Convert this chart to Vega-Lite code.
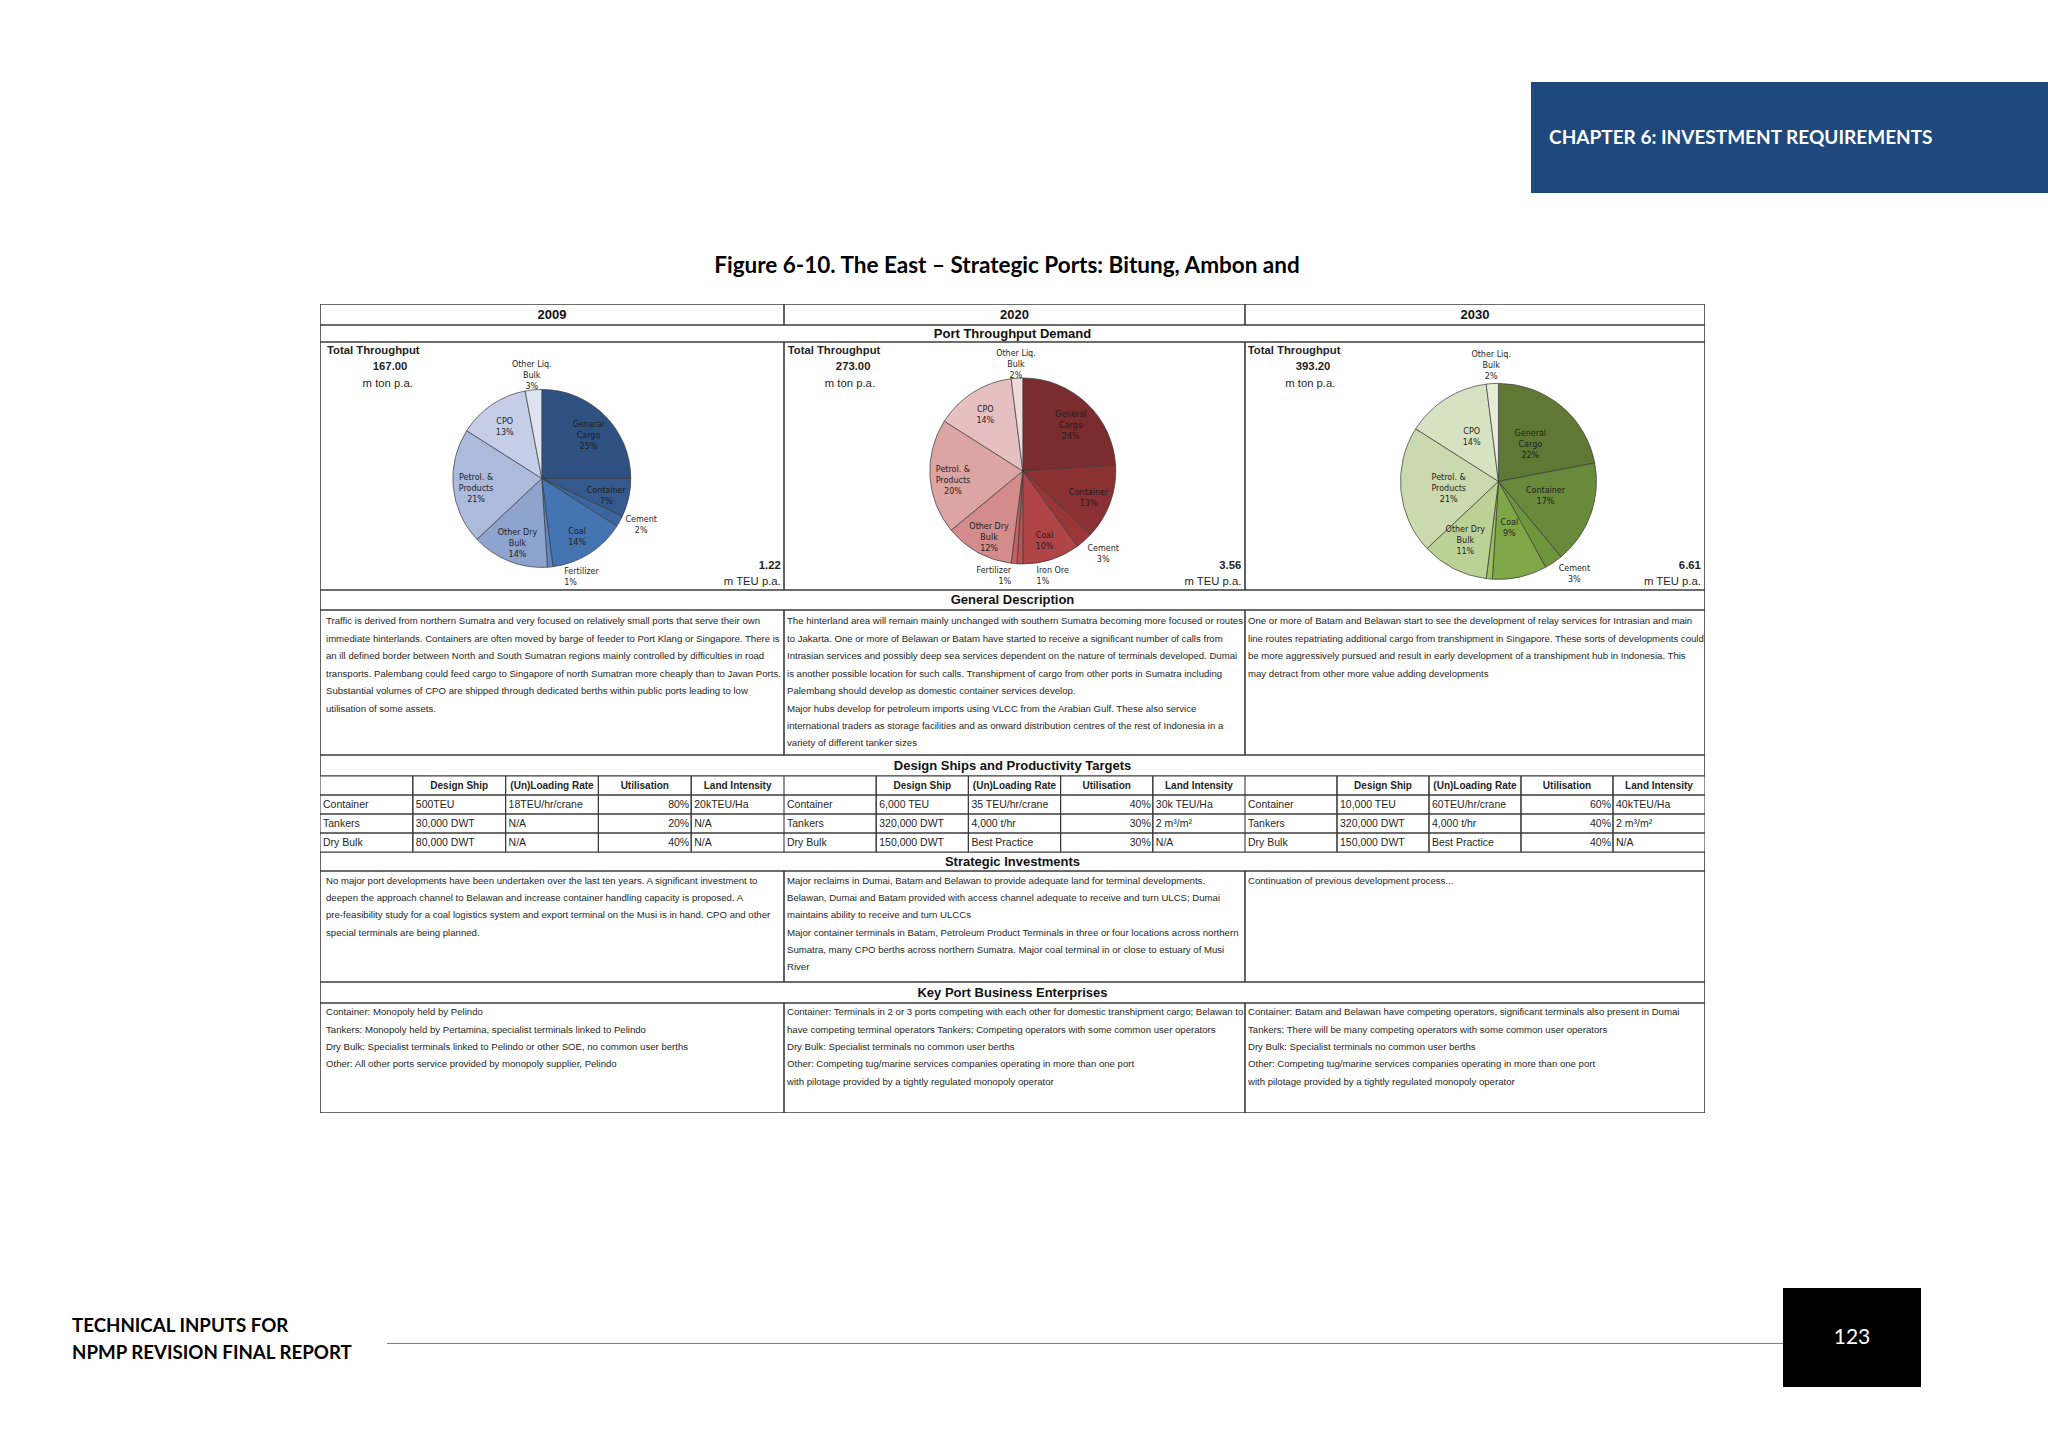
{
"$schema":"https://vega.github.io/schema/vega-lite/v6.json",
"background":"white",
"padding":{"left":0,"top":82,"right":0,"bottom":61},
"config":{"view":{"stroke":null},"text":{"font":"Liberation Sans","fontSize":9.6,"color":"#1f1f1f"}},
"datasets":{
"pies":[
{"year":"2009","idx":1,"cat":"General Cargo","pct":25,"label":"General\nCargo\n25%"},
{"year":"2009","idx":2,"cat":"Container","pct":7,"label":"Container\n7%"},
{"year":"2009","idx":3,"cat":"Cement","pct":2,"label":"Cement\n2%"},
{"year":"2009","idx":4,"cat":"Coal","pct":14,"label":"Coal\n14%"},
{"year":"2009","idx":5,"cat":"Fertilizer","pct":1,"label":"Fertilizer\n1%"},
{"year":"2009","idx":6,"cat":"Other Dry Bulk","pct":14,"label":"Other Dry\nBulk\n14%"},
{"year":"2009","idx":7,"cat":"Petrol. & Products","pct":21,"label":"Petrol. &\nProducts\n21%"},
{"year":"2009","idx":8,"cat":"CPO","pct":13,"label":"CPO\n13%"},
{"year":"2009","idx":9,"cat":"Other Liq. Bulk","pct":3,"label":"Other Liq.\nBulk\n3%"},
{"year":"2020","idx":1,"cat":"General Cargo","pct":24,"label":"General\nCargo\n24%"},
{"year":"2020","idx":2,"cat":"Container","pct":13,"label":"Container\n13%"},
{"year":"2020","idx":3,"cat":"Cement","pct":3,"label":"Cement\n3%"},
{"year":"2020","idx":4,"cat":"Coal","pct":10,"label":"Coal\n10%"},
{"year":"2020","idx":5,"cat":"Iron Ore","pct":1,"label":"Iron Ore\n1%"},
{"year":"2020","idx":6,"cat":"Fertilizer","pct":1,"label":"Fertilizer\n1%"},
{"year":"2020","idx":7,"cat":"Other Dry Bulk","pct":12,"label":"Other Dry\nBulk\n12%"},
{"year":"2020","idx":8,"cat":"Petrol. & Products","pct":20,"label":"Petrol. &\nProducts\n20%"},
{"year":"2020","idx":9,"cat":"CPO","pct":14,"label":"CPO\n14%"},
{"year":"2020","idx":10,"cat":"Other Liq. Bulk","pct":2,"label":"Other Liq.\nBulk\n2%"},
{"year":"2030","idx":1,"cat":"General Cargo","pct":22,"label":"General\nCargo\n22%"},
{"year":"2030","idx":2,"cat":"Container","pct":17,"label":"Container\n17%"},
{"year":"2030","idx":3,"cat":"Cement","pct":3,"label":"Cement\n3%"},
{"year":"2030","idx":4,"cat":"Coal","pct":9,"label":"Coal\n9%"},
{"year":"2030","idx":5,"cat":"Fertilizer","pct":1,"label":""},
{"year":"2030","idx":6,"cat":"Other Dry Bulk","pct":11,"label":"Other Dry\nBulk\n11%"},
{"year":"2030","idx":7,"cat":"Petrol. & Products","pct":21,"label":"Petrol. &\nProducts\n21%"},
{"year":"2030","idx":8,"cat":"CPO","pct":14,"label":"CPO\n14%"},
{"year":"2030","idx":9,"cat":"Other Liq. Bulk","pct":2,"label":"Other Liq.\nBulk\n2%"}
],
"totals":[
{"year":"2009","tons":"167.00","teu":"1.22"},
{"year":"2020","tons":"273.00","teu":"3.56"},
{"year":"2030","tons":"393.20","teu":"6.61"}
],
"footer":[
{"line":0,"text":"TECHNICAL INPUTS FOR"},
{"line":1,"text":"NPMP REVISION FINAL REPORT"}
],
"lines":[
{"section":"desc","year":"2009","line":0,"text":"Traffic is derived from northern Sumatra and very focused on relatively small ports that serve their own"},
{"section":"desc","year":"2009","line":1,"text":"immediate hinterlands. Containers are often moved by barge of feeder to Port Klang or Singapore. There is"},
{"section":"desc","year":"2009","line":2,"text":"an ill defined border between North and South Sumatran regions mainly controlled by difficulties in road"},
{"section":"desc","year":"2009","line":3,"text":"transports. Palembang could feed cargo to Singapore of north Sumatran more cheaply than to Javan Ports."},
{"section":"desc","year":"2009","line":4,"text":"Substantial volumes of CPO are shipped through dedicated berths within public ports leading to low"},
{"section":"desc","year":"2009","line":5,"text":"utilisation of some assets."},
{"section":"desc","year":"2020","line":0,"text":"The hinterland area will remain mainly unchanged with southern Sumatra becoming more focused or routes"},
{"section":"desc","year":"2020","line":1,"text":"to Jakarta. One or more of Belawan or Batam have started to receive a significant number of calls from"},
{"section":"desc","year":"2020","line":2,"text":"Intrasian services and possibly deep sea services dependent on the nature of terminals developed. Dumai"},
{"section":"desc","year":"2020","line":3,"text":"is another possible location for such calls. Transhipment of cargo from other ports in Sumatra including"},
{"section":"desc","year":"2020","line":4,"text":"Palembang should develop as domestic container services develop."},
{"section":"desc","year":"2020","line":5,"text":"Major hubs develop for petroleum imports using VLCC from the Arabian Gulf. These also service"},
{"section":"desc","year":"2020","line":6,"text":"international traders as storage facilities and as onward distribution centres of the rest of Indonesia in a"},
{"section":"desc","year":"2020","line":7,"text":"variety of different tanker sizes"},
{"section":"desc","year":"2030","line":0,"text":"One or more of Batam and Belawan start to see the development of relay services for Intrasian and main"},
{"section":"desc","year":"2030","line":1,"text":"line routes repatriating additional cargo from transhipment in Singapore. These sorts of developments could"},
{"section":"desc","year":"2030","line":2,"text":"be more aggressively pursued and result in early development of a transhipment hub in Indonesia. This"},
{"section":"desc","year":"2030","line":3,"text":"may detract from other more value adding developments"},
{"section":"strat","year":"2009","line":0,"text":"No major port developments have been undertaken over the last ten years. A significant investment to"},
{"section":"strat","year":"2009","line":1,"text":"deepen the approach channel to Belawan and increase container handling capacity is proposed. A"},
{"section":"strat","year":"2009","line":2,"text":"pre-feasibility study for a coal logistics system and export terminal on the Musi is in hand. CPO and other"},
{"section":"strat","year":"2009","line":3,"text":"special terminals are being planned."},
{"section":"strat","year":"2020","line":0,"text":"Major reclaims in Dumai, Batam and Belawan to provide adequate land for terminal developments."},
{"section":"strat","year":"2020","line":1,"text":"Belawan, Dumai and Batam provided with access channel adequate to receive and turn ULCS; Dumai"},
{"section":"strat","year":"2020","line":2,"text":"maintains ability to receive and turn ULCCs"},
{"section":"strat","year":"2020","line":3,"text":"Major container terminals in Batam, Petroleum Product Terminals in three or four locations across northern"},
{"section":"strat","year":"2020","line":4,"text":"Sumatra, many CPO berths across northern Sumatra. Major coal terminal in or close to estuary of Musi"},
{"section":"strat","year":"2020","line":5,"text":"River"},
{"section":"strat","year":"2030","line":0,"text":"Continuation of previous development process..."},
{"section":"key","year":"2009","line":0,"text":"Container: Monopoly held by Pelindo"},
{"section":"key","year":"2009","line":1,"text":"Tankers: Monopoly held by Pertamina, specialist terminals linked to Pelindo"},
{"section":"key","year":"2009","line":2,"text":"Dry Bulk: Specialist terminals linked to Pelindo or other SOE, no common user berths"},
{"section":"key","year":"2009","line":3,"text":"Other: All other ports service provided by monopoly supplier, Pelindo"},
{"section":"key","year":"2020","line":0,"text":"Container: Terminals in 2 or 3 ports competing with each other for domestic transhipment cargo; Belawan to"},
{"section":"key","year":"2020","line":1,"text":"have competing terminal operators Tankers: Competing operators with some common user operators"},
{"section":"key","year":"2020","line":2,"text":"Dry Bulk: Specialist terminals no common user berths"},
{"section":"key","year":"2020","line":3,"text":"Other: Competing tug/marine services companies operating in more than one port"},
{"section":"key","year":"2020","line":4,"text":"with pilotage provided by a tightly regulated monopoly operator"},
{"section":"key","year":"2030","line":0,"text":"Container: Batam and Belawan have competing operators, significant terminals also present in Dumai"},
{"section":"key","year":"2030","line":1,"text":"Tankers: There will be many competing operators with some common user operators"},
{"section":"key","year":"2030","line":2,"text":"Dry Bulk: Specialist terminals no common user berths"},
{"section":"key","year":"2030","line":3,"text":"Other: Competing tug/marine services companies operating in more than one port"},
{"section":"key","year":"2030","line":4,"text":"with pilotage provided by a tightly regulated monopoly operator"}
],
"design":[
{"year":"2009","row":"hdr","col":"label","text":""},
{"year":"2009","row":"hdr","col":"Design Ship","text":"Design Ship"},
{"year":"2009","row":"hdr","col":"(Un)Loading Rate","text":"(Un)Loading Rate"},
{"year":"2009","row":"hdr","col":"Utilisation","text":"Utilisation"},
{"year":"2009","row":"hdr","col":"Land Intensity","text":"Land Intensity"},
{"year":"2009","row":"Container","col":"label","text":"Container"},
{"year":"2009","row":"Container","col":"Design Ship","text":"500TEU"},
{"year":"2009","row":"Container","col":"(Un)Loading Rate","text":"18TEU/hr/crane"},
{"year":"2009","row":"Container","col":"Utilisation","text":"80%"},
{"year":"2009","row":"Container","col":"Land Intensity","text":"20kTEU/Ha"},
{"year":"2009","row":"Tankers","col":"label","text":"Tankers"},
{"year":"2009","row":"Tankers","col":"Design Ship","text":"30,000 DWT"},
{"year":"2009","row":"Tankers","col":"(Un)Loading Rate","text":"N/A"},
{"year":"2009","row":"Tankers","col":"Utilisation","text":"20%"},
{"year":"2009","row":"Tankers","col":"Land Intensity","text":"N/A"},
{"year":"2009","row":"Dry Bulk","col":"label","text":"Dry Bulk"},
{"year":"2009","row":"Dry Bulk","col":"Design Ship","text":"80,000 DWT"},
{"year":"2009","row":"Dry Bulk","col":"(Un)Loading Rate","text":"N/A"},
{"year":"2009","row":"Dry Bulk","col":"Utilisation","text":"40%"},
{"year":"2009","row":"Dry Bulk","col":"Land Intensity","text":"N/A"},
{"year":"2020","row":"hdr","col":"label","text":""},
{"year":"2020","row":"hdr","col":"Design Ship","text":"Design Ship"},
{"year":"2020","row":"hdr","col":"(Un)Loading Rate","text":"(Un)Loading Rate"},
{"year":"2020","row":"hdr","col":"Utilisation","text":"Utilisation"},
{"year":"2020","row":"hdr","col":"Land Intensity","text":"Land Intensity"},
{"year":"2020","row":"Container","col":"label","text":"Container"},
{"year":"2020","row":"Container","col":"Design Ship","text":"6,000 TEU"},
{"year":"2020","row":"Container","col":"(Un)Loading Rate","text":"35 TEU/hr/crane"},
{"year":"2020","row":"Container","col":"Utilisation","text":"40%"},
{"year":"2020","row":"Container","col":"Land Intensity","text":"30k TEU/Ha"},
{"year":"2020","row":"Tankers","col":"label","text":"Tankers"},
{"year":"2020","row":"Tankers","col":"Design Ship","text":"320,000 DWT"},
{"year":"2020","row":"Tankers","col":"(Un)Loading Rate","text":"4,000 t/hr"},
{"year":"2020","row":"Tankers","col":"Utilisation","text":"30%"},
{"year":"2020","row":"Tankers","col":"Land Intensity","text":"2 m³/m²"},
{"year":"2020","row":"Dry Bulk","col":"label","text":"Dry Bulk"},
{"year":"2020","row":"Dry Bulk","col":"Design Ship","text":"150,000 DWT"},
{"year":"2020","row":"Dry Bulk","col":"(Un)Loading Rate","text":"Best Practice"},
{"year":"2020","row":"Dry Bulk","col":"Utilisation","text":"30%"},
{"year":"2020","row":"Dry Bulk","col":"Land Intensity","text":"N/A"},
{"year":"2030","row":"hdr","col":"label","text":""},
{"year":"2030","row":"hdr","col":"Design Ship","text":"Design Ship"},
{"year":"2030","row":"hdr","col":"(Un)Loading Rate","text":"(Un)Loading Rate"},
{"year":"2030","row":"hdr","col":"Utilisation","text":"Utilisation"},
{"year":"2030","row":"hdr","col":"Land Intensity","text":"Land Intensity"},
{"year":"2030","row":"Container","col":"label","text":"Container"},
{"year":"2030","row":"Container","col":"Design Ship","text":"10,000 TEU"},
{"year":"2030","row":"Container","col":"(Un)Loading Rate","text":"60TEU/hr/crane"},
{"year":"2030","row":"Container","col":"Utilisation","text":"60%"},
{"year":"2030","row":"Container","col":"Land Intensity","text":"40kTEU/Ha"},
{"year":"2030","row":"Tankers","col":"label","text":"Tankers"},
{"year":"2030","row":"Tankers","col":"Design Ship","text":"320,000 DWT"},
{"year":"2030","row":"Tankers","col":"(Un)Loading Rate","text":"4,000 t/hr"},
{"year":"2030","row":"Tankers","col":"Utilisation","text":"40%"},
{"year":"2030","row":"Tankers","col":"Land Intensity","text":"2 m³/m²"},
{"year":"2030","row":"Dry Bulk","col":"label","text":"Dry Bulk"},
{"year":"2030","row":"Dry Bulk","col":"Design Ship","text":"150,000 DWT"},
{"year":"2030","row":"Dry Bulk","col":"(Un)Loading Rate","text":"Best Practice"},
{"year":"2030","row":"Dry Bulk","col":"Utilisation","text":"40%"},
{"year":"2030","row":"Dry Bulk","col":"Land Intensity","text":"N/A"}
]
},
"spacing":0,
"vconcat":[
{"spacing":0,"hconcat":[
 {"width":1531,"height":111,"data":{"values":[{"t":""}]},"mark":"text","encoding":{"text":{"field":"t"}}},
 {"width":517,"height":111,"view":{"fill":"#1F497D","stroke":null},"data":{"values":[{"t":"CHAPTER 6: INVESTMENT REQUIREMENTS"}]},"mark":{"type":"text","align":"left","font":"Lato","fontWeight":"bold","fontSize":19,"color":"#ffffff"},"encoding":{"x":{"datum":0.035,"type":"quantitative","scale":{"domain":[0,1],"nice":false},"axis":null},"text":{"field":"t"}}}
]},
{"spacing":0,"hconcat":[
 {"width":320,"height":111,"data":{"values":[{"t":""}]},"mark":"text","encoding":{"text":{"field":"t"}}},
 {"width":1385,"height":111,"data":{"values":[{"t":"Figure 6-10. The East – Strategic Ports: Bitung, Ambon and"}]},"mark":{"type":"text","font":"Lato","fontWeight":"bold","fontSize":22.5,"color":"#000000"},"encoding":{"x":{"datum":0.496,"type":"quantitative","scale":{"domain":[0,1],"nice":false},"axis":null},"y":{"datum":0.66,"type":"quantitative","scale":{"domain":[0,1],"reverse":true,"nice":false},"axis":null},"text":{"field":"t"}}}
]},
{"spacing":0,"hconcat":[
 {"width":320,"height":809,"data":{"values":[{"t":""}]},"mark":"text","encoding":{"text":{"field":"t"}}},
 {"spacing":0,"vconcat":[
  {"spacing":0,"hconcat":[
   {"width":464,"height":21,"resolve":{"scale":{"x":"independent","y":"independent"}},"layer":[
    {"data":{"values":[{}]},"mark":{"type":"rect","fillOpacity":0,"stroke":"#3c3c3c","strokeWidth":1.6,"clip":true},"encoding":{"x":{"datum":0,"type":"quantitative","scale":{"domain":[0,1],"nice":false},"axis":null},"x2":{"datum":1},"y":{"datum":0,"type":"quantitative","scale":{"domain":[0,1],"nice":false},"axis":null},"y2":{"datum":1}}},
    {"data":{"values":[{"t":"2009"}]},"mark":{"type":"text","fontWeight":"bold","fontSize":13,"color":"#111111"},"encoding":{"text":{"field":"t"}}}]},
   {"width":461,"height":21,"resolve":{"scale":{"x":"independent","y":"independent"}},"layer":[
    {"data":{"values":[{}]},"mark":{"type":"rect","fillOpacity":0,"stroke":"#3c3c3c","strokeWidth":1.6,"clip":true},"encoding":{"x":{"datum":0,"type":"quantitative","scale":{"domain":[0,1],"nice":false},"axis":null},"x2":{"datum":1},"y":{"datum":0,"type":"quantitative","scale":{"domain":[0,1],"nice":false},"axis":null},"y2":{"datum":1}}},
    {"data":{"values":[{"t":"2020"}]},"mark":{"type":"text","fontWeight":"bold","fontSize":13,"color":"#111111"},"encoding":{"text":{"field":"t"}}}]},
   {"width":460,"height":21,"resolve":{"scale":{"x":"independent","y":"independent"}},"layer":[
    {"data":{"values":[{}]},"mark":{"type":"rect","fillOpacity":0,"stroke":"#3c3c3c","strokeWidth":1.6,"clip":true},"encoding":{"x":{"datum":0,"type":"quantitative","scale":{"domain":[0,1],"nice":false},"axis":null},"x2":{"datum":1},"y":{"datum":0,"type":"quantitative","scale":{"domain":[0,1],"nice":false},"axis":null},"y2":{"datum":1}}},
    {"data":{"values":[{"t":"2030"}]},"mark":{"type":"text","fontWeight":"bold","fontSize":13,"color":"#111111"},"encoding":{"text":{"field":"t"}}}]}
  ]},
  {"width":1385,"height":17,"resolve":{"scale":{"x":"independent","y":"independent"}},"layer":[
   {"data":{"values":[{}]},"mark":{"type":"rect","fillOpacity":0,"stroke":"#3c3c3c","strokeWidth":1.6,"clip":true},"encoding":{"x":{"datum":0,"type":"quantitative","scale":{"domain":[0,1],"nice":false},"axis":null},"x2":{"datum":1},"y":{"datum":0,"type":"quantitative","scale":{"domain":[0,1],"nice":false},"axis":null},"y2":{"datum":1}}},
   {"data":{"values":[{"t":"Port Throughput Demand"}]},"mark":{"type":"text","fontWeight":"bold","fontSize":13,"color":"#111111"},"encoding":{"text":{"field":"t"}}}]},
  {"spacing":0,"resolve":{"scale":{"color":"independent"}},"hconcat":[
   {"width":464,"height":248,"resolve":{"scale":{"x":"independent","y":"independent"}},"layer":[
    {"data":{"values":[{}]},"mark":{"type":"rect","fillOpacity":0,"stroke":"#3c3c3c","strokeWidth":1.6,"clip":true},"encoding":{"x":{"datum":0,"type":"quantitative","scale":{"domain":[0,1],"nice":false},"axis":null},"x2":{"datum":1},"y":{"datum":0,"type":"quantitative","scale":{"domain":[0,1],"nice":false},"axis":null},"y2":{"datum":1}}},
    {"data":{"name":"pies"},"transform":[{"filter":"datum.year === '2009'"}],
     "mark":{"type":"arc","outerRadius":89,"stroke":"#3a3a3a","strokeWidth":0.7},
     "encoding":{
      "x":{"datum":"c","type":"nominal","scale":{"type":"point","padding":0.5,"align":0.478},"axis":null},
      "y":{"datum":"c","type":"nominal","scale":{"type":"point","padding":0.5,"align":0.55},"axis":null},
      "theta":{"field":"pct","type":"quantitative","stack":true},
      "order":{"field":"idx","type":"quantitative"},
      "color":{"field":"cat","type":"nominal","scale":{"domain":["General Cargo","Container","Cement","Coal","Fertilizer","Other Dry Bulk","Petrol. & Products","CPO","Other Liq. Bulk"],"range":["#2E5182","#34598F","#3B66A2","#4574B3","#5F88C3","#8EA4CF","#ACBADB","#C5CEE6","#DDE3F0"]},"legend":null}}},
    {"data":{"name":"pies"},"transform":[{"filter":"datum.year === '2009'"}],
     "mark":{"type":"text","radius":66,"dy":-6.6,"font":"DejaVu Sans","fontSize":8,"lineBreak":"\n","lineHeight":11,"color":"#1e1e1e","clip":true},
     "encoding":{
      "x":{"datum":"c","type":"nominal","scale":{"type":"point","padding":0.5,"align":0.478},"axis":null},
      "y":{"datum":"c","type":"nominal","scale":{"type":"point","padding":0.5,"align":0.55},"axis":null},
      "theta":{"field":"pct","type":"quantitative","stack":true},
      "order":{"field":"idx","type":"quantitative"},
      "text":{"condition":{"test":"datum.pct >= 5 && length(split(datum.label, '\\n')) == 3","field":"label","type":"nominal"},"value":""}}},
    {"data":{"name":"pies"},"transform":[{"filter":"datum.year === '2009'"}],
     "mark":{"type":"text","radius":66,"dy":-2.2,"font":"DejaVu Sans","fontSize":8,"lineBreak":"\n","lineHeight":11,"color":"#1e1e1e","clip":true},
     "encoding":{
      "x":{"datum":"c","type":"nominal","scale":{"type":"point","padding":0.5,"align":0.478},"axis":null},
      "y":{"datum":"c","type":"nominal","scale":{"type":"point","padding":0.5,"align":0.55},"axis":null},
      "theta":{"field":"pct","type":"quantitative","stack":true},
      "order":{"field":"idx","type":"quantitative"},
      "text":{"condition":{"test":"datum.pct >= 5 && length(split(datum.label, '\\n')) == 2","field":"label","type":"nominal"},"value":""}}},
    {"data":{"name":"pies"},"transform":[{"filter":"datum.year === '2009'"}],
     "mark":{"type":"text","radius":107,"dy":-7,"font":"DejaVu Sans","fontSize":8,"lineBreak":"\n","lineHeight":11,"color":"#1e1e1e","clip":true},
     "encoding":{
      "x":{"datum":"c","type":"nominal","scale":{"type":"point","padding":0.5,"align":0.478},"axis":null},
      "y":{"datum":"c","type":"nominal","scale":{"type":"point","padding":0.5,"align":0.55},"axis":null},
      "theta":{"field":"pct","type":"quantitative","stack":true},
      "order":{"field":"idx","type":"quantitative"},
      "text":{"condition":{"test":"datum.cat === 'Other Liq. Bulk'","field":"label","type":"nominal"},"value":""}}},
    {"data":{"name":"pies"},"transform":[{"filter":"datum.year === '2009'"}],
     "mark":{"type":"text","radius":110,"dy":-11.5,"dx":3,"font":"DejaVu Sans","fontSize":8,"lineBreak":"\n","lineHeight":11,"color":"#1e1e1e","clip":true},
     "encoding":{
      "x":{"datum":"c","type":"nominal","scale":{"type":"point","padding":0.5,"align":0.478},"axis":null},
      "y":{"datum":"c","type":"nominal","scale":{"type":"point","padding":0.5,"align":0.55},"axis":null},
      "theta":{"field":"pct","type":"quantitative","stack":true},
      "order":{"field":"idx","type":"quantitative"},
      "text":{"condition":{"test":"datum.cat === 'Cement'","field":"label","type":"nominal"},"value":""}}},
    {"data":{"name":"pies"},"transform":[{"filter":"datum.year === '2009'"}],
     "mark":{"type":"text","radius":100,"dy":-5.5,"dx":13,"align":"left","font":"DejaVu Sans","fontSize":8,"lineBreak":"\n","lineHeight":11,"color":"#1e1e1e","clip":true},
     "encoding":{
      "x":{"datum":"c","type":"nominal","scale":{"type":"point","padding":0.5,"align":0.478},"axis":null},
      "y":{"datum":"c","type":"nominal","scale":{"type":"point","padding":0.5,"align":0.55},"axis":null},
      "theta":{"field":"pct","type":"quantitative","stack":true},
      "order":{"field":"idx","type":"quantitative"},
      "text":{"condition":{"test":"datum.cat === 'Fertilizer'","field":"label","type":"nominal"},"value":""}}},
    {"data":{"name":"totals"},"transform":[{"filter":"datum.year === '2009'"}],"mark":{"type":"text","align":"left","fontWeight":"bold","fontSize":11.3},"encoding":{"x":{"datum":0.015,"type":"quantitative","scale":{"domain":[0,1],"nice":false},"axis":null},"y":{"datum":0.036,"type":"quantitative","scale":{"domain":[0,1],"reverse":true,"nice":false},"axis":null},"text":{"value":"Total Throughput"}}},
    {"data":{"name":"totals"},"transform":[{"filter":"datum.year === '2009'"}],"mark":{"type":"text","fontWeight":"bold","fontSize":11.3},"encoding":{"x":{"datum":0.151,"type":"quantitative","scale":{"domain":[0,1],"nice":false},"axis":null},"y":{"datum":0.101,"type":"quantitative","scale":{"domain":[0,1],"reverse":true,"nice":false},"axis":null},"text":{"field":"tons"}}},
    {"data":{"name":"totals"},"transform":[{"filter":"datum.year === '2009'"}],"mark":{"type":"text","fontSize":11.3},"encoding":{"x":{"datum":0.146,"type":"quantitative","scale":{"domain":[0,1],"nice":false},"axis":null},"y":{"datum":0.169,"type":"quantitative","scale":{"domain":[0,1],"reverse":true,"nice":false},"axis":null},"text":{"value":"m ton p.a."}}},
    {"data":{"name":"totals"},"transform":[{"filter":"datum.year === '2009'"}],"mark":{"type":"text","align":"right","fontWeight":"bold","fontSize":11.3},"encoding":{"x":{"datum":0.993,"type":"quantitative","scale":{"domain":[0,1],"nice":false},"axis":null},"y":{"datum":0.903,"type":"quantitative","scale":{"domain":[0,1],"reverse":true,"nice":false},"axis":null},"text":{"field":"teu"}}},
    {"data":{"name":"totals"},"transform":[{"filter":"datum.year === '2009'"}],"mark":{"type":"text","align":"right","fontSize":11.3},"encoding":{"x":{"datum":0.993,"type":"quantitative","scale":{"domain":[0,1],"nice":false},"axis":null},"y":{"datum":0.968,"type":"quantitative","scale":{"domain":[0,1],"reverse":true,"nice":false},"axis":null},"text":{"value":"m TEU p.a."}}}
   ]},
   {"width":461,"height":248,"resolve":{"scale":{"x":"independent","y":"independent"}},"layer":[
    {"data":{"values":[{}]},"mark":{"type":"rect","fillOpacity":0,"stroke":"#3c3c3c","strokeWidth":1.6,"clip":true},"encoding":{"x":{"datum":0,"type":"quantitative","scale":{"domain":[0,1],"nice":false},"axis":null},"x2":{"datum":1},"y":{"datum":0,"type":"quantitative","scale":{"domain":[0,1],"nice":false},"axis":null},"y2":{"datum":1}}},
    {"data":{"name":"pies"},"transform":[{"filter":"datum.year === '2020'"}],
     "mark":{"type":"arc","outerRadius":93,"stroke":"#3a3a3a","strokeWidth":0.7},
     "encoding":{
      "x":{"datum":"c","type":"nominal","scale":{"type":"point","padding":0.5,"align":0.518},"axis":null},
      "y":{"datum":"c","type":"nominal","scale":{"type":"point","padding":0.5,"align":0.52},"axis":null},
      "theta":{"field":"pct","type":"quantitative","stack":true},
      "order":{"field":"idx","type":"quantitative"},
      "color":{"field":"cat","type":"nominal","scale":{"domain":["General Cargo","Container","Cement","Coal","Iron Ore","Fertilizer","Other Dry Bulk","Petrol. & Products","CPO","Other Liq. Bulk"],"range":["#7B2C2E","#8B3134","#9A3538","#B04548","#BC5251","#C6605F","#D38B8B","#DDA4A4","#E6C0C0","#F0DADA"]},"legend":null}}},
    {"data":{"name":"pies"},"transform":[{"filter":"datum.year === '2020'"}],
     "mark":{"type":"text","radius":70,"dy":-4.9,"font":"DejaVu Sans","fontSize":8,"lineBreak":"\n","lineHeight":11,"color":"#1e1e1e","clip":true},
     "encoding":{
      "x":{"datum":"c","type":"nominal","scale":{"type":"point","padding":0.5,"align":0.518},"axis":null},
      "y":{"datum":"c","type":"nominal","scale":{"type":"point","padding":0.5,"align":0.52},"axis":null},
      "theta":{"field":"pct","type":"quantitative","stack":true},
      "order":{"field":"idx","type":"quantitative"},
      "text":{"condition":{"test":"datum.pct >= 5 && length(split(datum.label, '\\n')) == 3","field":"label","type":"nominal"},"value":""}}},
    {"data":{"name":"pies"},"transform":[{"filter":"datum.year === '2020'"}],
     "mark":{"type":"text","radius":70,"dy":-1.8,"font":"DejaVu Sans","fontSize":8,"lineBreak":"\n","lineHeight":11,"color":"#1e1e1e","clip":true},
     "encoding":{
      "x":{"datum":"c","type":"nominal","scale":{"type":"point","padding":0.5,"align":0.518},"axis":null},
      "y":{"datum":"c","type":"nominal","scale":{"type":"point","padding":0.5,"align":0.52},"axis":null},
      "theta":{"field":"pct","type":"quantitative","stack":true},
      "order":{"field":"idx","type":"quantitative"},
      "text":{"condition":{"test":"datum.pct >= 5 && length(split(datum.label, '\\n')) == 2","field":"label","type":"nominal"},"value":""}}},
    {"data":{"name":"pies"},"transform":[{"filter":"datum.year === '2020'"}],
     "mark":{"type":"text","radius":109,"dy":-8.4,"font":"DejaVu Sans","fontSize":8,"lineBreak":"\n","lineHeight":11,"color":"#1e1e1e","clip":true},
     "encoding":{
      "x":{"datum":"c","type":"nominal","scale":{"type":"point","padding":0.5,"align":0.518},"axis":null},
      "y":{"datum":"c","type":"nominal","scale":{"type":"point","padding":0.5,"align":0.52},"axis":null},
      "theta":{"field":"pct","type":"quantitative","stack":true},
      "order":{"field":"idx","type":"quantitative"},
      "text":{"condition":{"test":"datum.cat === 'Other Liq. Bulk'","field":"label","type":"nominal"},"value":""}}},
    {"data":{"name":"pies"},"transform":[{"filter":"datum.year === '2020'"}],
     "mark":{"type":"text","radius":117,"dy":-10,"dx":3,"font":"DejaVu Sans","fontSize":8,"lineBreak":"\n","lineHeight":11,"color":"#1e1e1e","clip":true},
     "encoding":{
      "x":{"datum":"c","type":"nominal","scale":{"type":"point","padding":0.5,"align":0.518},"axis":null},
      "y":{"datum":"c","type":"nominal","scale":{"type":"point","padding":0.5,"align":0.52},"axis":null},
      "theta":{"field":"pct","type":"quantitative","stack":true},
      "order":{"field":"idx","type":"quantitative"},
      "text":{"condition":{"test":"datum.cat === 'Cement'","field":"label","type":"nominal"},"value":""}}},
    {"data":{"name":"pies"},"transform":[{"filter":"datum.year === '2020'"}],
     "mark":{"type":"text","radius":103,"dy":-2.9,"align":"left","dx":17,"font":"DejaVu Sans","fontSize":8,"lineBreak":"\n","lineHeight":11,"color":"#1e1e1e","clip":true},
     "encoding":{
      "x":{"datum":"c","type":"nominal","scale":{"type":"point","padding":0.5,"align":0.518},"axis":null},
      "y":{"datum":"c","type":"nominal","scale":{"type":"point","padding":0.5,"align":0.52},"axis":null},
      "theta":{"field":"pct","type":"quantitative","stack":true},
      "order":{"field":"idx","type":"quantitative"},
      "text":{"condition":{"test":"datum.cat === 'Iron Ore'","field":"label","type":"nominal"},"value":""}}},
    {"data":{"name":"pies"},"transform":[{"filter":"datum.year === '2020'"}],
     "mark":{"type":"text","radius":103,"dy":-2.9,"align":"right","dx":-2,"font":"DejaVu Sans","fontSize":8,"lineBreak":"\n","lineHeight":11,"color":"#1e1e1e","clip":true},
     "encoding":{
      "x":{"datum":"c","type":"nominal","scale":{"type":"point","padding":0.5,"align":0.518},"axis":null},
      "y":{"datum":"c","type":"nominal","scale":{"type":"point","padding":0.5,"align":0.52},"axis":null},
      "theta":{"field":"pct","type":"quantitative","stack":true},
      "order":{"field":"idx","type":"quantitative"},
      "text":{"condition":{"test":"datum.cat === 'Fertilizer'","field":"label","type":"nominal"},"value":""}}},
    {"data":{"name":"totals"},"transform":[{"filter":"datum.year === '2020'"}],"mark":{"type":"text","align":"left","fontWeight":"bold","fontSize":11.3},"encoding":{"x":{"datum":0.008,"type":"quantitative","scale":{"domain":[0,1],"nice":false},"axis":null},"y":{"datum":0.036,"type":"quantitative","scale":{"domain":[0,1],"reverse":true,"nice":false},"axis":null},"text":{"value":"Total Throughput"}}},
    {"data":{"name":"totals"},"transform":[{"filter":"datum.year === '2020'"}],"mark":{"type":"text","fontWeight":"bold","fontSize":11.3},"encoding":{"x":{"datum":0.15,"type":"quantitative","scale":{"domain":[0,1],"nice":false},"axis":null},"y":{"datum":0.101,"type":"quantitative","scale":{"domain":[0,1],"reverse":true,"nice":false},"axis":null},"text":{"field":"tons"}}},
    {"data":{"name":"totals"},"transform":[{"filter":"datum.year === '2020'"}],"mark":{"type":"text","fontSize":11.3},"encoding":{"x":{"datum":0.143,"type":"quantitative","scale":{"domain":[0,1],"nice":false},"axis":null},"y":{"datum":0.169,"type":"quantitative","scale":{"domain":[0,1],"reverse":true,"nice":false},"axis":null},"text":{"value":"m ton p.a."}}},
    {"data":{"name":"totals"},"transform":[{"filter":"datum.year === '2020'"}],"mark":{"type":"text","align":"right","fontWeight":"bold","fontSize":11.3},"encoding":{"x":{"datum":0.992,"type":"quantitative","scale":{"domain":[0,1],"nice":false},"axis":null},"y":{"datum":0.903,"type":"quantitative","scale":{"domain":[0,1],"reverse":true,"nice":false},"axis":null},"text":{"field":"teu"}}},
    {"data":{"name":"totals"},"transform":[{"filter":"datum.year === '2020'"}],"mark":{"type":"text","align":"right","fontSize":11.3},"encoding":{"x":{"datum":0.992,"type":"quantitative","scale":{"domain":[0,1],"nice":false},"axis":null},"y":{"datum":0.968,"type":"quantitative","scale":{"domain":[0,1],"reverse":true,"nice":false},"axis":null},"text":{"value":"m TEU p.a."}}}
   ]},
   {"width":460,"height":248,"resolve":{"scale":{"x":"independent","y":"independent"}},"layer":[
    {"data":{"values":[{}]},"mark":{"type":"rect","fillOpacity":0,"stroke":"#3c3c3c","strokeWidth":1.6,"clip":true},"encoding":{"x":{"datum":0,"type":"quantitative","scale":{"domain":[0,1],"nice":false},"axis":null},"x2":{"datum":1},"y":{"datum":0,"type":"quantitative","scale":{"domain":[0,1],"nice":false},"axis":null},"y2":{"datum":1}}},
    {"data":{"name":"pies"},"transform":[{"filter":"datum.year === '2030'"}],
     "mark":{"type":"arc","outerRadius":98,"stroke":"#3a3a3a","strokeWidth":0.7},
     "encoding":{
      "x":{"datum":"c","type":"nominal","scale":{"type":"point","padding":0.5,"align":0.551},"axis":null},
      "y":{"datum":"c","type":"nominal","scale":{"type":"point","padding":0.5,"align":0.562},"axis":null},
      "theta":{"field":"pct","type":"quantitative","stack":true},
      "order":{"field":"idx","type":"quantitative"},
      "color":{"field":"cat","type":"nominal","scale":{"domain":["General Cargo","Container","Cement","Coal","Fertilizer","Other Dry Bulk","Petrol. & Products","CPO","Other Liq. Bulk"],"range":["#5F7934","#698A3B","#6F953D","#7FA747","#9CC05F","#BCD196","#CAD9AE","#D7E2C2","#E5ECD8"]},"legend":null}}},
    {"data":{"name":"pies"},"transform":[{"filter":"datum.year === '2030'"}],
     "mark":{"type":"text","radius":50,"dy":-8.4,"font":"DejaVu Sans","fontSize":8,"lineBreak":"\n","lineHeight":11,"color":"#1e1e1e","clip":true},
     "encoding":{
      "x":{"datum":"c","type":"nominal","scale":{"type":"point","padding":0.5,"align":0.551},"axis":null},
      "y":{"datum":"c","type":"nominal","scale":{"type":"point","padding":0.5,"align":0.562},"axis":null},
      "theta":{"field":"pct","type":"quantitative","stack":true},
      "order":{"field":"idx","type":"quantitative"},
      "text":{"condition":{"test":"datum.pct >= 5 && datum.cat !== 'Other Dry Bulk' && length(split(datum.label, '\\n')) == 3","field":"label","type":"nominal"},"value":""}}},
    {"data":{"name":"pies"},"transform":[{"filter":"datum.year === '2030'"}],
     "mark":{"type":"text","radius":50,"dy":-7.2,"font":"DejaVu Sans","fontSize":8,"lineBreak":"\n","lineHeight":11,"color":"#1e1e1e","clip":true},
     "encoding":{
      "x":{"datum":"c","type":"nominal","scale":{"type":"point","padding":0.5,"align":0.551},"axis":null},
      "y":{"datum":"c","type":"nominal","scale":{"type":"point","padding":0.5,"align":0.562},"axis":null},
      "theta":{"field":"pct","type":"quantitative","stack":true},
      "order":{"field":"idx","type":"quantitative"},
      "text":{"condition":{"test":"datum.pct >= 5 && length(split(datum.label, '\\n')) == 2","field":"label","type":"nominal"},"value":""}}},
    {"data":{"name":"pies"},"transform":[{"filter":"datum.year === '2030'"}],
     "mark":{"type":"text","radius":73,"dy":-16,"font":"DejaVu Sans","fontSize":8,"lineBreak":"\n","lineHeight":11,"color":"#1e1e1e","clip":true},
     "encoding":{
      "x":{"datum":"c","type":"nominal","scale":{"type":"point","padding":0.5,"align":0.551},"axis":null},
      "y":{"datum":"c","type":"nominal","scale":{"type":"point","padding":0.5,"align":0.562},"axis":null},
      "theta":{"field":"pct","type":"quantitative","stack":true},
      "order":{"field":"idx","type":"quantitative"},
      "text":{"condition":{"test":"datum.cat === 'Other Dry Bulk'","field":"label","type":"nominal"},"value":""}}},
    {"data":{"name":"pies"},"transform":[{"filter":"datum.year === '2030'"}],
     "mark":{"type":"text","radius":116,"dy":-11,"font":"DejaVu Sans","fontSize":8,"lineBreak":"\n","lineHeight":11,"color":"#1e1e1e","clip":true},
     "encoding":{
      "x":{"datum":"c","type":"nominal","scale":{"type":"point","padding":0.5,"align":0.551},"axis":null},
      "y":{"datum":"c","type":"nominal","scale":{"type":"point","padding":0.5,"align":0.562},"axis":null},
      "theta":{"field":"pct","type":"quantitative","stack":true},
      "order":{"field":"idx","type":"quantitative"},
      "text":{"condition":{"test":"datum.cat === 'Other Liq. Bulk'","field":"label","type":"nominal"},"value":""}}},
    {"data":{"name":"pies"},"transform":[{"filter":"datum.year === '2030'"}],
     "mark":{"type":"text","radius":119,"dy":-10.7,"dx":9,"font":"DejaVu Sans","fontSize":8,"lineBreak":"\n","lineHeight":11,"color":"#1e1e1e","clip":true},
     "encoding":{
      "x":{"datum":"c","type":"nominal","scale":{"type":"point","padding":0.5,"align":0.551},"axis":null},
      "y":{"datum":"c","type":"nominal","scale":{"type":"point","padding":0.5,"align":0.562},"axis":null},
      "theta":{"field":"pct","type":"quantitative","stack":true},
      "order":{"field":"idx","type":"quantitative"},
      "text":{"condition":{"test":"datum.cat === 'Cement'","field":"label","type":"nominal"},"value":""}}},
    {"data":{"name":"totals"},"transform":[{"filter":"datum.year === '2030'"}],"mark":{"type":"text","align":"left","fontWeight":"bold","fontSize":11.3},"encoding":{"x":{"datum":0.006,"type":"quantitative","scale":{"domain":[0,1],"nice":false},"axis":null},"y":{"datum":0.036,"type":"quantitative","scale":{"domain":[0,1],"reverse":true,"nice":false},"axis":null},"text":{"value":"Total Throughput"}}},
    {"data":{"name":"totals"},"transform":[{"filter":"datum.year === '2030'"}],"mark":{"type":"text","fontWeight":"bold","fontSize":11.3},"encoding":{"x":{"datum":0.148,"type":"quantitative","scale":{"domain":[0,1],"nice":false},"axis":null},"y":{"datum":0.101,"type":"quantitative","scale":{"domain":[0,1],"reverse":true,"nice":false},"axis":null},"text":{"field":"tons"}}},
    {"data":{"name":"totals"},"transform":[{"filter":"datum.year === '2030'"}],"mark":{"type":"text","fontSize":11.3},"encoding":{"x":{"datum":0.142,"type":"quantitative","scale":{"domain":[0,1],"nice":false},"axis":null},"y":{"datum":0.169,"type":"quantitative","scale":{"domain":[0,1],"reverse":true,"nice":false},"axis":null},"text":{"value":"m ton p.a."}}},
    {"data":{"name":"totals"},"transform":[{"filter":"datum.year === '2030'"}],"mark":{"type":"text","align":"right","fontWeight":"bold","fontSize":11.3},"encoding":{"x":{"datum":0.991,"type":"quantitative","scale":{"domain":[0,1],"nice":false},"axis":null},"y":{"datum":0.903,"type":"quantitative","scale":{"domain":[0,1],"reverse":true,"nice":false},"axis":null},"text":{"field":"teu"}}},
    {"data":{"name":"totals"},"transform":[{"filter":"datum.year === '2030'"}],"mark":{"type":"text","align":"right","fontSize":11.3},"encoding":{"x":{"datum":0.991,"type":"quantitative","scale":{"domain":[0,1],"nice":false},"axis":null},"y":{"datum":0.968,"type":"quantitative","scale":{"domain":[0,1],"reverse":true,"nice":false},"axis":null},"text":{"value":"m TEU p.a."}}}
   ]}
  ]},
  {"width":1385,"height":20,"resolve":{"scale":{"x":"independent","y":"independent"}},"layer":[
   {"data":{"values":[{}]},"mark":{"type":"rect","fillOpacity":0,"stroke":"#3c3c3c","strokeWidth":1.6,"clip":true},"encoding":{"x":{"datum":0,"type":"quantitative","scale":{"domain":[0,1],"nice":false},"axis":null},"x2":{"datum":1},"y":{"datum":0,"type":"quantitative","scale":{"domain":[0,1],"nice":false},"axis":null},"y2":{"datum":1}}},
   {"data":{"values":[{"t":"General Description"}]},"mark":{"type":"text","fontWeight":"bold","fontSize":13,"color":"#111111"},"encoding":{"text":{"field":"t"}}}]},
  {"spacing":0,"hconcat":[
   {"width":464,"height":145,"resolve":{"scale":{"x":"independent","y":"independent"}},"layer":[
    {"data":{"values":[{}]},"mark":{"type":"rect","fillOpacity":0,"stroke":"#3c3c3c","strokeWidth":1.6,"clip":true},"encoding":{"x":{"datum":0,"type":"quantitative","scale":{"domain":[0,1],"nice":false},"axis":null},"x2":{"datum":1},"y":{"datum":0,"type":"quantitative","scale":{"domain":[0,1],"nice":false},"axis":null},"y2":{"datum":1}}},
    {"data":{"name":"lines"},"transform":[{"filter":"datum.section === 'desc' && datum.year === '2009'"}],"mark":{"type":"text","align":"left","dx":6,"clip":true},"encoding":{"x":{"datum":0,"type":"quantitative","scale":{"domain":[0,1],"nice":false},"axis":null},"y":{"field":"line","type":"quantitative","scale":{"domain":[-0.66,7.67],"reverse":true,"nice":false,"zero":false},"axis":null},"text":{"field":"text"}}}]},
   {"width":461,"height":145,"resolve":{"scale":{"x":"independent","y":"independent"}},"layer":[
    {"data":{"values":[{}]},"mark":{"type":"rect","fillOpacity":0,"stroke":"#3c3c3c","strokeWidth":1.6,"clip":true},"encoding":{"x":{"datum":0,"type":"quantitative","scale":{"domain":[0,1],"nice":false},"axis":null},"x2":{"datum":1},"y":{"datum":0,"type":"quantitative","scale":{"domain":[0,1],"nice":false},"axis":null},"y2":{"datum":1}}},
    {"data":{"name":"lines"},"transform":[{"filter":"datum.section === 'desc' && datum.year === '2020'"}],"mark":{"type":"text","align":"left","dx":3,"clip":true},"encoding":{"x":{"datum":0,"type":"quantitative","scale":{"domain":[0,1],"nice":false},"axis":null},"y":{"field":"line","type":"quantitative","scale":{"domain":[-0.66,7.67],"reverse":true,"nice":false,"zero":false},"axis":null},"text":{"field":"text"}}}]},
   {"width":460,"height":145,"resolve":{"scale":{"x":"independent","y":"independent"}},"layer":[
    {"data":{"values":[{}]},"mark":{"type":"rect","fillOpacity":0,"stroke":"#3c3c3c","strokeWidth":1.6,"clip":true},"encoding":{"x":{"datum":0,"type":"quantitative","scale":{"domain":[0,1],"nice":false},"axis":null},"x2":{"datum":1},"y":{"datum":0,"type":"quantitative","scale":{"domain":[0,1],"nice":false},"axis":null},"y2":{"datum":1}}},
    {"data":{"name":"lines"},"transform":[{"filter":"datum.section === 'desc' && datum.year === '2030'"}],"mark":{"type":"text","align":"left","dx":3,"clip":true},"encoding":{"x":{"datum":0,"type":"quantitative","scale":{"domain":[0,1],"nice":false},"axis":null},"y":{"field":"line","type":"quantitative","scale":{"domain":[-0.66,7.67],"reverse":true,"nice":false,"zero":false},"axis":null},"text":{"field":"text"}}}]}
  ]},
  {"width":1385,"height":21,"resolve":{"scale":{"x":"independent","y":"independent"}},"layer":[
   {"data":{"values":[{}]},"mark":{"type":"rect","fillOpacity":0,"stroke":"#3c3c3c","strokeWidth":1.6,"clip":true},"encoding":{"x":{"datum":0,"type":"quantitative","scale":{"domain":[0,1],"nice":false},"axis":null},"x2":{"datum":1},"y":{"datum":0,"type":"quantitative","scale":{"domain":[0,1],"nice":false},"axis":null},"y2":{"datum":1}}},
   {"data":{"values":[{"t":"Design Ships and Productivity Targets"}]},"mark":{"type":"text","fontWeight":"bold","fontSize":13,"color":"#111111"},"encoding":{"text":{"field":"t"}}}]},
  {"spacing":0,"hconcat":[
   {"width":464,"height":76,"data":{"name":"design"},"transform":[{"filter":"datum.year === '2009'"}],
    "encoding":{"x":{"field":"col","type":"nominal","scale":{"domain":["label","Design Ship","(Un)Loading Rate","Utilisation","Land Intensity"],"paddingInner":0,"paddingOuter":0},"axis":null},"y":{"field":"row","type":"nominal","scale":{"domain":["hdr","Container","Tankers","Dry Bulk"],"paddingInner":0,"paddingOuter":0},"axis":null}},
    "layer":[
     {"mark":{"type":"rect","fillOpacity":0,"stroke":"#3c3c3c","strokeWidth":1.1,"clip":true}},
     {"transform":[{"filter":"datum.row === 'hdr'"}],"mark":{"type":"text","fontWeight":"bold","fontSize":10,"clip":true},"encoding":{"text":{"field":"text"}}},
     {"transform":[{"filter":"datum.row !== 'hdr' && datum.col !== 'Utilisation'"}],"mark":{"type":"text","align":"left","dx":3,"fontSize":10.5,"clip":true},"encoding":{"x":{"field":"col","type":"nominal","bandPosition":0,"scale":{"domain":["label","Design Ship","(Un)Loading Rate","Utilisation","Land Intensity"],"paddingInner":0,"paddingOuter":0},"axis":null},"text":{"field":"text"}}},
     {"transform":[{"filter":"datum.row !== 'hdr' && datum.col === 'Utilisation'"}],"mark":{"type":"text","align":"right","dx":-2,"fontSize":10.5,"clip":true},"encoding":{"x":{"field":"col","type":"nominal","bandPosition":1,"scale":{"domain":["label","Design Ship","(Un)Loading Rate","Utilisation","Land Intensity"],"paddingInner":0,"paddingOuter":0},"axis":null},"text":{"field":"text"}}}
    ]},
   {"width":461,"height":76,"data":{"name":"design"},"transform":[{"filter":"datum.year === '2020'"}],
    "encoding":{"x":{"field":"col","type":"nominal","scale":{"domain":["label","Design Ship","(Un)Loading Rate","Utilisation","Land Intensity"],"paddingInner":0,"paddingOuter":0},"axis":null},"y":{"field":"row","type":"nominal","scale":{"domain":["hdr","Container","Tankers","Dry Bulk"],"paddingInner":0,"paddingOuter":0},"axis":null}},
    "layer":[
     {"mark":{"type":"rect","fillOpacity":0,"stroke":"#3c3c3c","strokeWidth":1.1,"clip":true}},
     {"transform":[{"filter":"datum.row === 'hdr'"}],"mark":{"type":"text","fontWeight":"bold","fontSize":10,"clip":true},"encoding":{"text":{"field":"text"}}},
     {"transform":[{"filter":"datum.row !== 'hdr' && datum.col !== 'Utilisation'"}],"mark":{"type":"text","align":"left","dx":3,"fontSize":10.5,"clip":true},"encoding":{"x":{"field":"col","type":"nominal","bandPosition":0,"scale":{"domain":["label","Design Ship","(Un)Loading Rate","Utilisation","Land Intensity"],"paddingInner":0,"paddingOuter":0},"axis":null},"text":{"field":"text"}}},
     {"transform":[{"filter":"datum.row !== 'hdr' && datum.col === 'Utilisation'"}],"mark":{"type":"text","align":"right","dx":-2,"fontSize":10.5,"clip":true},"encoding":{"x":{"field":"col","type":"nominal","bandPosition":1,"scale":{"domain":["label","Design Ship","(Un)Loading Rate","Utilisation","Land Intensity"],"paddingInner":0,"paddingOuter":0},"axis":null},"text":{"field":"text"}}}
    ]},
   {"width":460,"height":76,"data":{"name":"design"},"transform":[{"filter":"datum.year === '2030'"}],
    "encoding":{"x":{"field":"col","type":"nominal","scale":{"domain":["label","Design Ship","(Un)Loading Rate","Utilisation","Land Intensity"],"paddingInner":0,"paddingOuter":0},"axis":null},"y":{"field":"row","type":"nominal","scale":{"domain":["hdr","Container","Tankers","Dry Bulk"],"paddingInner":0,"paddingOuter":0},"axis":null}},
    "layer":[
     {"mark":{"type":"rect","fillOpacity":0,"stroke":"#3c3c3c","strokeWidth":1.1,"clip":true}},
     {"transform":[{"filter":"datum.row === 'hdr'"}],"mark":{"type":"text","fontWeight":"bold","fontSize":10,"clip":true},"encoding":{"text":{"field":"text"}}},
     {"transform":[{"filter":"datum.row !== 'hdr' && datum.col !== 'Utilisation'"}],"mark":{"type":"text","align":"left","dx":3,"fontSize":10.5,"clip":true},"encoding":{"x":{"field":"col","type":"nominal","bandPosition":0,"scale":{"domain":["label","Design Ship","(Un)Loading Rate","Utilisation","Land Intensity"],"paddingInner":0,"paddingOuter":0},"axis":null},"text":{"field":"text"}}},
     {"transform":[{"filter":"datum.row !== 'hdr' && datum.col === 'Utilisation'"}],"mark":{"type":"text","align":"right","dx":-2,"fontSize":10.5,"clip":true},"encoding":{"x":{"field":"col","type":"nominal","bandPosition":1,"scale":{"domain":["label","Design Ship","(Un)Loading Rate","Utilisation","Land Intensity"],"paddingInner":0,"paddingOuter":0},"axis":null},"text":{"field":"text"}}}
    ]}
  ]},
  {"width":1385,"height":19,"resolve":{"scale":{"x":"independent","y":"independent"}},"layer":[
   {"data":{"values":[{}]},"mark":{"type":"rect","fillOpacity":0,"stroke":"#3c3c3c","strokeWidth":1.6,"clip":true},"encoding":{"x":{"datum":0,"type":"quantitative","scale":{"domain":[0,1],"nice":false},"axis":null},"x2":{"datum":1},"y":{"datum":0,"type":"quantitative","scale":{"domain":[0,1],"nice":false},"axis":null},"y2":{"datum":1}}},
   {"data":{"values":[{"t":"Strategic Investments"}]},"mark":{"type":"text","fontWeight":"bold","fontSize":13,"color":"#111111"},"encoding":{"text":{"field":"t"}}}]},
  {"spacing":0,"hconcat":[
   {"width":464,"height":111,"resolve":{"scale":{"x":"independent","y":"independent"}},"layer":[
    {"data":{"values":[{}]},"mark":{"type":"rect","fillOpacity":0,"stroke":"#3c3c3c","strokeWidth":1.6,"clip":true},"encoding":{"x":{"datum":0,"type":"quantitative","scale":{"domain":[0,1],"nice":false},"axis":null},"x2":{"datum":1},"y":{"datum":0,"type":"quantitative","scale":{"domain":[0,1],"nice":false},"axis":null},"y2":{"datum":1}}},
    {"data":{"name":"lines"},"transform":[{"filter":"datum.section === 'strat' && datum.year === '2009'"}],"mark":{"type":"text","align":"left","dx":6,"clip":true},"encoding":{"x":{"datum":0,"type":"quantitative","scale":{"domain":[0,1],"nice":false},"axis":null},"y":{"field":"line","type":"quantitative","scale":{"domain":[-0.56,5.86],"reverse":true,"nice":false,"zero":false},"axis":null},"text":{"field":"text"}}}]},
   {"width":461,"height":111,"resolve":{"scale":{"x":"independent","y":"independent"}},"layer":[
    {"data":{"values":[{}]},"mark":{"type":"rect","fillOpacity":0,"stroke":"#3c3c3c","strokeWidth":1.6,"clip":true},"encoding":{"x":{"datum":0,"type":"quantitative","scale":{"domain":[0,1],"nice":false},"axis":null},"x2":{"datum":1},"y":{"datum":0,"type":"quantitative","scale":{"domain":[0,1],"nice":false},"axis":null},"y2":{"datum":1}}},
    {"data":{"name":"lines"},"transform":[{"filter":"datum.section === 'strat' && datum.year === '2020'"}],"mark":{"type":"text","align":"left","dx":3,"clip":true},"encoding":{"x":{"datum":0,"type":"quantitative","scale":{"domain":[0,1],"nice":false},"axis":null},"y":{"field":"line","type":"quantitative","scale":{"domain":[-0.56,5.86],"reverse":true,"nice":false,"zero":false},"axis":null},"text":{"field":"text"}}}]},
   {"width":460,"height":111,"resolve":{"scale":{"x":"independent","y":"independent"}},"layer":[
    {"data":{"values":[{}]},"mark":{"type":"rect","fillOpacity":0,"stroke":"#3c3c3c","strokeWidth":1.6,"clip":true},"encoding":{"x":{"datum":0,"type":"quantitative","scale":{"domain":[0,1],"nice":false},"axis":null},"x2":{"datum":1},"y":{"datum":0,"type":"quantitative","scale":{"domain":[0,1],"nice":false},"axis":null},"y2":{"datum":1}}},
    {"data":{"name":"lines"},"transform":[{"filter":"datum.section === 'strat' && datum.year === '2030'"}],"mark":{"type":"text","align":"left","dx":3,"clip":true},"encoding":{"x":{"datum":0,"type":"quantitative","scale":{"domain":[0,1],"nice":false},"axis":null},"y":{"field":"line","type":"quantitative","scale":{"domain":[-0.56,5.86],"reverse":true,"nice":false,"zero":false},"axis":null},"text":{"field":"text"}}}]}
  ]},
  {"width":1385,"height":21,"resolve":{"scale":{"x":"independent","y":"independent"}},"layer":[
   {"data":{"values":[{}]},"mark":{"type":"rect","fillOpacity":0,"stroke":"#3c3c3c","strokeWidth":1.6,"clip":true},"encoding":{"x":{"datum":0,"type":"quantitative","scale":{"domain":[0,1],"nice":false},"axis":null},"x2":{"datum":1},"y":{"datum":0,"type":"quantitative","scale":{"domain":[0,1],"nice":false},"axis":null},"y2":{"datum":1}}},
   {"data":{"values":[{"t":"Key Port Business Enterprises"}]},"mark":{"type":"text","fontWeight":"bold","fontSize":13,"color":"#111111"},"encoding":{"text":{"field":"t"}}}]},
  {"spacing":0,"hconcat":[
   {"width":464,"height":110,"resolve":{"scale":{"x":"independent","y":"independent"}},"layer":[
    {"data":{"values":[{}]},"mark":{"type":"rect","fillOpacity":0,"stroke":"#3c3c3c","strokeWidth":1.6,"clip":true},"encoding":{"x":{"datum":0,"type":"quantitative","scale":{"domain":[0,1],"nice":false},"axis":null},"x2":{"datum":1},"y":{"datum":0,"type":"quantitative","scale":{"domain":[0,1],"nice":false},"axis":null},"y2":{"datum":1}}},
    {"data":{"name":"lines"},"transform":[{"filter":"datum.section === 'key' && datum.year === '2009'"}],"mark":{"type":"text","align":"left","dx":6,"clip":true},"encoding":{"x":{"datum":0,"type":"quantitative","scale":{"domain":[0,1],"nice":false},"axis":null},"y":{"field":"line","type":"quantitative","scale":{"domain":[-0.54,5.82],"reverse":true,"nice":false,"zero":false},"axis":null},"text":{"field":"text"}}}]},
   {"width":461,"height":110,"resolve":{"scale":{"x":"independent","y":"independent"}},"layer":[
    {"data":{"values":[{}]},"mark":{"type":"rect","fillOpacity":0,"stroke":"#3c3c3c","strokeWidth":1.6,"clip":true},"encoding":{"x":{"datum":0,"type":"quantitative","scale":{"domain":[0,1],"nice":false},"axis":null},"x2":{"datum":1},"y":{"datum":0,"type":"quantitative","scale":{"domain":[0,1],"nice":false},"axis":null},"y2":{"datum":1}}},
    {"data":{"name":"lines"},"transform":[{"filter":"datum.section === 'key' && datum.year === '2020'"}],"mark":{"type":"text","align":"left","dx":3,"clip":true},"encoding":{"x":{"datum":0,"type":"quantitative","scale":{"domain":[0,1],"nice":false},"axis":null},"y":{"field":"line","type":"quantitative","scale":{"domain":[-0.54,5.82],"reverse":true,"nice":false,"zero":false},"axis":null},"text":{"field":"text"}}}]},
   {"width":460,"height":110,"resolve":{"scale":{"x":"independent","y":"independent"}},"layer":[
    {"data":{"values":[{}]},"mark":{"type":"rect","fillOpacity":0,"stroke":"#3c3c3c","strokeWidth":1.6,"clip":true},"encoding":{"x":{"datum":0,"type":"quantitative","scale":{"domain":[0,1],"nice":false},"axis":null},"x2":{"datum":1},"y":{"datum":0,"type":"quantitative","scale":{"domain":[0,1],"nice":false},"axis":null},"y2":{"datum":1}}},
    {"data":{"name":"lines"},"transform":[{"filter":"datum.section === 'key' && datum.year === '2030'"}],"mark":{"type":"text","align":"left","dx":3,"clip":true},"encoding":{"x":{"datum":0,"type":"quantitative","scale":{"domain":[0,1],"nice":false},"axis":null},"y":{"field":"line","type":"quantitative","scale":{"domain":[-0.54,5.82],"reverse":true,"nice":false,"zero":false},"axis":null},"text":{"field":"text"}}}]}
  ]}
 ]}
]},
{"width":10,"height":175,"data":{"values":[{"t":""}]},"mark":"text","encoding":{"text":{"field":"t"}}},
{"spacing":0,"hconcat":[
 {"width":72,"height":99,"data":{"values":[{"t":""}]},"mark":"text","encoding":{"text":{"field":"t"}}},
 {"width":315,"height":99,"data":{"name":"footer"},"mark":{"type":"text","align":"left","font":"Lato","fontWeight":"bold","fontSize":18.7,"color":"#000000"},"encoding":{"x":{"datum":0,"type":"quantitative","scale":{"domain":[0,1],"nice":false},"axis":null},"y":{"field":"line","type":"quantitative","scale":{"domain":[-1.4,2.27],"reverse":true,"nice":false,"zero":false},"axis":null},"text":{"field":"text"}}},
 {"width":1396,"height":99,"data":{"values":[{"t":""}]},"mark":{"type":"rule","color":"#7f7f7f","strokeWidth":1,"clip":true},"encoding":{"y":{"datum":0.56,"type":"quantitative","scale":{"domain":[0,1],"reverse":true,"nice":false},"axis":null}}},
 {"width":138,"height":99,"view":{"fill":"#000000","stroke":null},"data":{"values":[{"t":"123"}]},"mark":{"type":"text","font":"Lato","fontSize":21,"color":"#ffffff"},"encoding":{"text":{"field":"t"}}}
]}
]
}
